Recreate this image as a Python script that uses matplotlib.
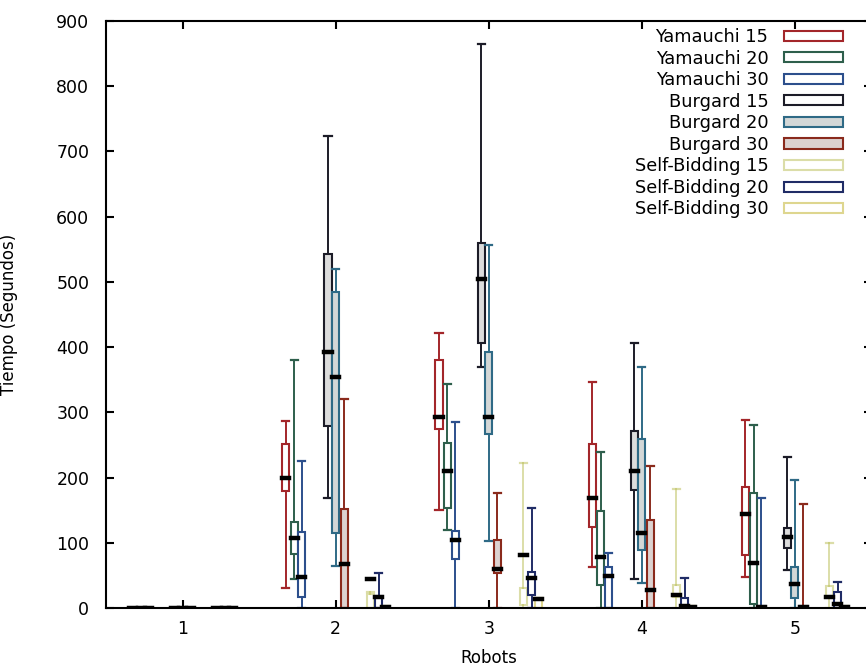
import matplotlib
matplotlib.use("Agg")
import matplotlib.pyplot as plt
from matplotlib.patches import Patch

# robots on the x axis
robots = [1, 2, 3, 4, 5]

# per series: (whisker low, q1, median, q3, whisker high) for robots 1..5
yam15 = [(0, 0, 0, 0, 0), (30, 179, 199, 252, 287), (150, 274, 293, 381, 422),
         (63, 124, 168, 251, 346), (47, 81, 144, 185, 288)]
yam20 = [(0, 0, 0, 0, 0), (44, 83, 107, 132, 380), (119, 153, 210, 253, 343),
         (0, 35, 78, 148, 239), (0, 6, 69, 176, 281)]
yam30 = [(0, 0, 0, 0, 0), (0, 17, 47, 116, 225), (0, 75, 104, 118, 285),
         (0, 0, 49, 63, 84), (0, 0, 2, 3, 168)]
bur15 = [(0, 0, 0, 0, 0), (168, 279, 393, 543, 724), (370, 406, 505, 560, 865),
         (44, 181, 210, 272, 407), (58, 92, 109, 122, 231)]
bur20 = [(0, 0, 0, 0, 0), (64, 115, 354, 484, 519), (102, 267, 293, 393, 556),
         (38, 89, 115, 259, 370), (0, 15, 37, 63, 197)]
bur30 = [(0, 0, 0, 0, 0), (0, 0, 67, 152, 321), (0, 53, 60, 104, 177),
         (0, 0, 28, 135, 217), (0, 0, 2, 3, 159)]
sb15 = [(0, 0, 0, 0, 0), (0, 0, 45, 22, 24), (0, 5, 81, 30, 222),
        (0, 17, 20, 35, 183), (0, 17, 17, 33, 100)]
sb20 = [(0, 0, 0, 0, 0), (0, 0, 17, 18, 53), (0, 20, 46, 55, 153),
        (0, 0, 3, 15, 46), (0, 0, 6, 24, 40)]
sb30 = [(0, 0, 0, 0, 0), (0, 0, 2, 3, 3), (0, 0, 14, 15, 15),
        (0, 0, 2, 3, 3), (0, 0, 2, 3, 3)]

labels = ["Yamauchi 15", "Yamauchi 20", "Yamauchi 30",
          "Burgard 15", "Burgard 20", "Burgard 30",
          "Self-Bidding 15", "Self-Bidding 20", "Self-Bidding 30"]
series = [yam15, yam20, yam30, bur15, bur20, bur30, sb15, sb20, sb30]

offsets = [-0.325, -0.27, -0.22, -0.05, 0.0, 0.055, 0.225, 0.28, 0.325]
edge_colors = ["#a3262a", "#2e5f4c", "#2c4f8c", "#1c1c28", "#2f6a86",
               "#8a2a1c", "#b9bd52", "#202c66", "#c9bb45"]
face_colors = ["white", "white", "white", "#dcdcdc", "#d3d7d7",
               "#dcd2d0", "white", "white", "white"]
edge_alpha = [1, 1, 1, 1, 1, 1, 0.5, 1, 0.6]

plt.rcParams['font.family'] = 'DejaVu Sans'
fig = plt.figure(figsize=(8.66, 6.69), dpi=100)
ax = fig.add_axes([106 / 866, 1 - 608 / 669, 765.5 / 866, 587 / 669])

width = 0.046
for s, off, ec, fc, a in zip(series, offsets, edge_colors, face_colors, edge_alpha):
    stats = [dict(whislo=v[0], q1=v[1], med=v[2], q3=v[3], whishi=v[4])
             for v in s]
    ax.bxp(stats, positions=[r + off for r in robots], widths=width,
           showfliers=False, patch_artist=True, manage_ticks=False,
           capwidths=width,
           boxprops=dict(facecolor=fc, edgecolor=ec, linewidth=1.5, alpha=a),
           whiskerprops=dict(color=ec, linewidth=1.4, alpha=a),
           capprops=dict(color=ec, linewidth=1.6, alpha=a),
           medianprops=dict(color="black", linewidth=3.2, solid_capstyle="projecting"))

ax.set_xlim(0.5, 5.5)
ax.set_ylim(0, 900)
ax.set_xticks(robots)
ax.set_yticks(range(0, 901, 100))
ax.tick_params(direction="in", length=6, width=1.5, top=True, right=True,
               labelsize=12.5)
ax.tick_params(axis="y", pad=12)
ax.tick_params(axis="x", pad=9)
for sp in ax.spines.values():
    sp.set_linewidth(1.5)

ax.set_ylabel("Tiempo (Segundos)", fontsize=12)
ax.set_xlabel("Robots", fontsize=12)
ax.yaxis.set_label_coords(-0.115, 0.5)
ax.xaxis.set_label_coords(0.5, -0.07)

handles = [Patch(facecolor=fc, edgecolor=ec, linewidth=1.5, alpha=a)
           for ec, fc, a in zip(edge_colors, face_colors, edge_alpha)]
handles[3] = Patch(facecolor="white", edgecolor=edge_colors[3], linewidth=1.5)
ax.legend(handles, labels, loc="upper right", markerfirst=False, frameon=False,
          bbox_to_anchor=(843 / 866, 1 - 28 / 669),
          bbox_transform=fig.transFigure, fontsize=12.8,
          handlelength=3.3, handleheight=0.5, handletextpad=0.9,
          labelspacing=0.2, borderpad=0, borderaxespad=0)

fig.savefig("out.png", dpi=100)
